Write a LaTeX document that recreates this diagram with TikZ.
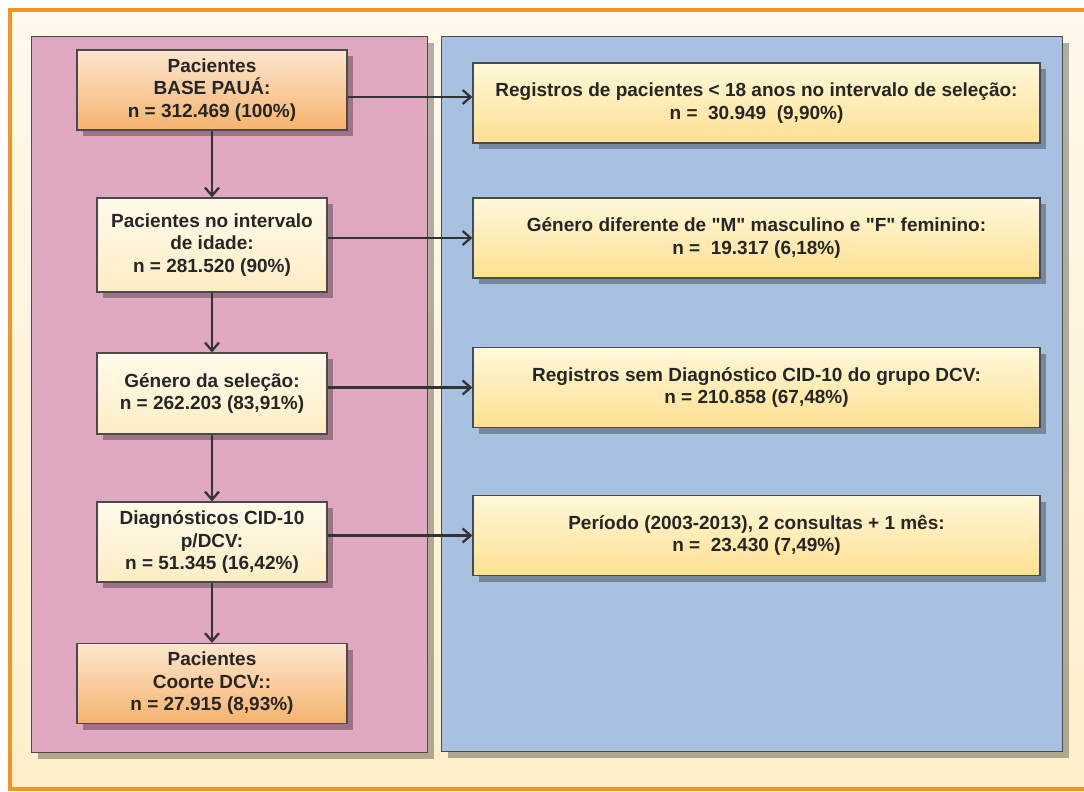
\documentclass[tikz,border=0pt]{standalone}
\usepackage{fontspec}
\setmainfont{Liberation Sans}
% same face without the TeX quote mapping, for straight double quotes
\newfontfamily\plainquotes{Liberation Sans}
\usetikzlibrary{arrows.meta,shadows}

\definecolor{frameorange}{HTML}{F7941D}
\definecolor{bgtop}{HTML}{FFF8EC}
\definecolor{bgbottom}{HTML}{FDEFCB}
\definecolor{panelpink}{HTML}{DFA8C0}
\definecolor{panelblue}{HTML}{A9C1E1}
\definecolor{edgegray}{HTML}{4A4A4A}
\definecolor{linkgray}{HTML}{333333}
\definecolor{orangetop}{HTML}{FCE6CE}
\definecolor{orangebottom}{HTML}{F5B36E}
\definecolor{creamtop}{HTML}{FFFAEA}
\definecolor{creambottom}{HTML}{FDEDC5}
\definecolor{yellowtop}{HTML}{FFF8DA}
\definecolor{yellowbottom}{HTML}{FDE091}

\newcommand{\dq}{{\plainquotes"}}

\tikzset{
  softshadow/.style={drop shadow={shadow xshift=6pt, shadow yshift=-6pt, fill=black, opacity=0.3}},
  panel/.style={draw=edgegray, line width=1.4pt, anchor=north west, inner sep=0pt, softshadow},
  box/.style={draw=edgegray, line width=1.3pt, inner sep=0pt, align=center,
    font=\fontsize{19}{22.5}\selectfont\bfseries, text=black!85, softshadow},
  keybox/.style={box, minimum width=270pt, minimum height=80pt, top color=orangetop, bottom color=orangebottom},
  stagebox/.style={box, minimum width=230pt, top color=creamtop, bottom color=creambottom},
  dropbox/.style={box, minimum width=567pt, minimum height=80pt, top color=yellowtop, bottom color=yellowbottom},
  link/.style={draw=linkgray, line width=2.3pt, -{Straight Barb[length=8pt,width=14pt,line width=2.3pt]}}
}

\begin{document}
\begin{tikzpicture}[x=1pt, y=-1pt]
  \useasboundingbox (0,0) rectangle (1084,792);

  % outer frame
  \fill[top color=bgtop, bottom color=bgbottom] (10,10) rectangle (1092,789);
  \draw[frameorange, line width=4pt] (10,10) rectangle (1092,789);

  % panels
  \node[panel, fill=panelpink, minimum width=396pt, minimum height=716pt] (leftpanel) at (31,36) {};
  \node[panel, fill=panelblue, minimum width=621pt, minimum height=715pt] (rightpanel) at (441,36) {};

  % selection stages
  \node[keybox] (b1) at (212,90) {Pacientes\\BASE PAUÁ:\\n = 312.469 (100\%)};
  \node[stagebox, minimum height=94pt] (b2) at (212,245) {Pacientes no intervalo\\de idade:\\n = 281.520 (90\%)};
  \node[stagebox, minimum height=81pt] (b3) at (212,393.5) {Género da seleção:\\n = 262.203 (83,91\%)};
  \node[stagebox, minimum height=80pt] (b4) at (212,542) {Diagnósticos CID-10\\p/DCV:\\n = 51.345 (16,42\%)};
  \node[keybox] (b5) at (212,683.5) {Pacientes\\Coorte DCV::\\n = 27.915 (8,93\%)};

  % excluded records
  \node[dropbox] (r1) at (756.5,103) {Registros de pacientes < 18 anos no intervalo de seleção:\\n = ~30.949 ~(9,90\%)};
  \node[dropbox] (r2) at (756.5,238) {Género diferente de \dq M\dq{} masculino e \dq F\dq{} feminino:\\n = ~19.317 (6,18\%)};
  \node[dropbox] (r3) at (756.5,387.5) {Registros sem Diagnóstico CID-10 do grupo DCV:\\n = 210.858 (67,48\%)};
  \node[dropbox] (r4) at (756.5,535.5) {Período (2003-2013), 2 consultas + 1 mês:\\n = ~23.430 (7,49\%)};

  % flow down the stages
  \draw[link] (b1.south) -- (b2.north);
  \draw[link] (b2.south) -- (b3.north);
  \draw[link] (b3.south) -- (b4.north);
  \draw[link] (b4.south) -- (b5.north);

  % exclusions to the right
  \draw[link] ([yshift=-7pt]b1.east) -- ([yshift=-7pt]b1.east -| r1.west);
  \draw[link] (r2.west -| b2.east) -- (r2.west);
  \draw[link] (r3.west -| b3.east) -- (r3.west);
  \draw[link] (r4.west -| b4.east) -- (r4.west);
\end{tikzpicture}
\end{document}
